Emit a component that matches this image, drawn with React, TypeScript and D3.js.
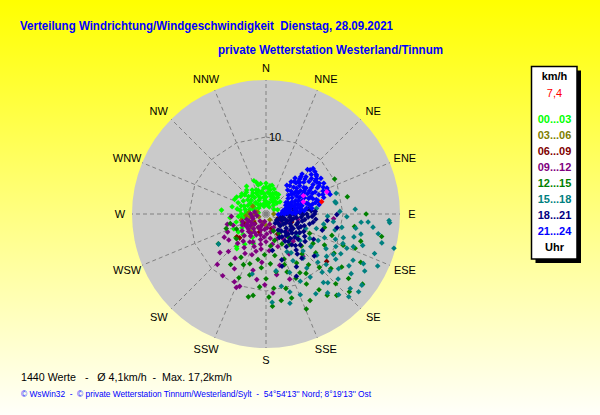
import React from "react";
import * as d3 from "d3";

const directions = ["N","NNE","NE","ENE","E","ESE","SE","SSE","S","SSW","SW","WSW","W","WNW","NW","NNW"];
const ringValues = [10];
const maxSpeed = 17.4;
const currentSpeed = 7.4;
const legendRanges = ["00...03","03...06","06...09","09...12","12...15","15...18","18...21","21...24"];
const legendColors = ["#00ff00","#808000","#800000","#800080","#008000","#008080","#000080","#0000ff"];

// [direction in degrees, speed km/h]
const lime: [number, number][] = [
  [0,3.5],[345,3.9],[343,4.3],[321,4.0],[310,4.1],[295,4.5],[282,4.5],[275,5.8],[264,4.7],[237,4.3],[222,5.7],[220,5.9],[24,2.9],[27,3.0],[49,2.4],
  [350,3.0],[355,2.6],[5,2.8],[10,3.2],[15,2.4],[20,2.0],[30,1.8],[40,1.5],[355,1.8],[340,2.2],[335,3.0],[330,3.6],[325,2.6],[315,3.2],[318,2.0],
  [305,2.5],[300,3.4],[290,3.0],[285,2.2],[298,1.6],[310,1.2],[330,1.4],[345,1.0],[280,3.8],[270,3.2],[272,2.4],[265,3.6],[260,2.8],[255,4.0],
  [250,3.3],[245,4.6],[240,3.6],[232,5.0],[228,4.0],[8,1.2],[25,1.0],[60,1.2],[70,1.6],[0,2.2],[338,3.4],[312,3.7],[292,3.9],[300,4.4],[325,4.4],
  [350,4.0],[8,3.7],[18,3.4],[35,2.6],[45,2.0],[203,4.2],[210,3.5],[215,4.8],
  [355,3.4],[0,4.0],[5,3.4],[12,2.6],[18,2.8],[22,2.4],[28,2.2],[33,3.0],[38,2.0],[347,2.8],[342,3.2],[337,2.6],[333,2.0],[328,3.2],[322,3.0],
  [318,3.8],[313,2.6],[308,3.0],[303,2.0],[295,2.6],[288,3.4],[283,2.8],[278,3.4],[276,2.6],[268,2.8],[262,3.2],[352,2.2],[2,1.6],[15,1.5],
  [350,1.4],[320,1.6],[290,1.8],[280,1.0],[12,3.8],[340,4.6],[305,4.0]
];
const olive: [number, number][] = [
  [260,2.1],[284,1.2],[146,0.9],[116,1.6],[256,3.3],[240,1.8],[230,2.5],[270,1.5],[250,1.0],[200,1.2],[300,2.0],[220,3.0],[180,1.5],[100,2.2],
  [90,1.0],[265,2.6],[245,2.9],[275,2.2],[210,2.0],[120,2.6]
];
const maroon: [number, number][] = [
  [232,4.8],[230,1.9],[107,1.7],[107,3.5],[228,4.6],[128,10.0],[245,3.1],[106,3.2],[200,2.5],[160,2.0],[150,3.0]
];
const purple: [number, number][] = [
  [241,6.2],[224,9.1],[215,9.8],[202,10.3],[205,9.7],[200,10.0],[225,6.9],[181,9.2],[175,10.3],[199,5.6],[251,4.5],[266,4.5],[94,8.8],[139,7.3],
  [165,6.9],[193,7.5],[224,5.3],[230,7.8],[215,7.0],[210,8.2],[188,8.6],[170,8.0],[160,9.0],[150,6.0],[235,5.9],[245,5.5],[255,5.2],[208,5.8],[185,6.3],
  [190,1.0],[200,1.5],[210,2.0],[220,2.5],[230,3.0],[240,2.2],[250,1.8],[260,1.2],[215,3.5],[205,3.0],[195,2.8],[185,2.0],[175,1.8],[165,2.4],
  [170,3.2],[180,3.6],[190,4.0],[200,4.5],[210,4.2],[225,4.0],[235,3.8],[245,3.4],[255,2.6],[220,1.2],[160,1.4],[150,2.0],[140,2.8],[155,3.5],
  [145,4.0],[160,4.5],[175,4.8],[195,5.0],[130,3.5],[120,2.0],[110,3.0],[100,4.2],[135,5.0],[270,2.0],[280,1.5],
  [185,3.0],[192,3.4],[198,2.2],[205,4.0],[212,2.8],[218,3.2],[225,3.2],[228,2.0],[233,2.5],[238,3.0],[242,2.8],[248,2.4],[252,3.2],[258,1.8],
  [203,1.8],[178,2.6],[168,4.0],[188,4.6],[213,5.2],[220,4.6]
];
const green: [number, number][] = [
  [63,10.0],[78,10.8],[101,15.3],[126,15.5],[139,14.0],[145,12.0],[170,11.4],[189,10.7],[203,9.0],[204,7.2],[174,9.7],[111,12.4],[238,7.3],[255,4.8],[243,4.3],
  [150,10.5],[155,9.2],[160,8.0],[165,10.0],[180,8.4],[185,7.0],[195,8.2],[175,6.5],[168,5.5],[158,6.3],[148,7.5],[140,8.6],[135,9.8],[130,11.0],
  [125,12.0],[120,10.2],[118,8.6],[122,7.2],[132,6.2],[142,5.0],[152,4.4],[162,3.6],[172,4.2],[182,5.3],[190,6.0],[198,6.8],[210,6.5],[215,8.0],
  [185,9.5],[178,10.8],[163,11.4],[153,12.6],[143,13.2],[135,12.8],[128,13.6],[117,13.8],[112,10.8],[108,9.0],[103,7.8],[114,6.2],[126,5.0],
  [136,4.2],[146,3.0],[156,2.4],[128,8.2],[138,7.0],[150,8.8],[160,7.0],[170,7.6],[176,12.0],[192,11.0],[157,13.4],[146,9.3],[133,14.8],[98,11.6],
  [106,12.8],[90,13.0],[250,5.5],[230,5.0]
];
const teal: [number, number][] = [
  [81,9.2],[94.5,13.3],[94,16.1],[93,16.0],[105,17.2],[104,15.5],[117,14.2],[130,15.7],[135,15.2],[111,10.7],[87,11.6],[99,11.8],[122,12.7],
  [126.6,15.5],[131.5,14.6],[138,14.1],[80,9.1],[73.5,9.5],[83.6,6.6],[119,6.5],[153,9.8],[176,11.5],[193,8.0],[237.6,7.3],[163,10.6],[157,11.4],
  [121,10.2],[104.6,11.8],[96.5,8.8],[110.5,12.1],[131.7,11.1],[129,8.5],[143,8.8],[151,5.6],[124,4.8],
  [100,10.0],[103,9.2],[107,10.5],[110,9.6],[113,11.4],[115,10.0],[118,11.0],[120,9.0],[123,10.8],[125,9.6],[127,11.8],[130,10.2],[133,9.2],
  [136,10.5],[140,11.6],[145,10.0],[148,12.2],[142,13.0],[125,13.5],[118,12.8],[108,13.2],[102,12.6],[97,14.0],[100,14.8],[110,15.0],[115,16.0],
  [120,14.8],[92,10.5],[88,9.6],[95,12.4],[112,8.2],[117,7.6],[126,7.2],[135,6.8],[140,7.5],[132,12.6],[138,12.0],[150,7.0],[158,8.2],[147,6.0],
  [106,6.8],[100,7.6],[92,8.0],[128,5.6],[110,5.5],[168,9.6],[165,12.0],[170,7.5]
];
const navy: [number, number][] = [
  [90,2.7],[95,2.2],[100,2.0],[110,1.8],[120,1.6],[135,1.7],[130,2.4],[120,2.6],[108,2.9],[98,3.1],[88,3.3],[86,4.0],[92,3.8],[100,3.6],[112,3.4],
  [125,3.2],[138,3.0],[145,3.6],[132,3.9],[118,4.0],[105,4.3],[95,4.6],[85,4.8],[83,5.5],[90,5.3],[98,5.1],[110,4.8],[122,4.6],[135,4.5],[145,4.3],
  [140,5.2],[128,5.3],[115,5.4],[103,5.8],[93,6.0],[87,6.4],[96,6.5],[132,6.0],[140,6.1],[125,6.2],[148,5.0],[150,3.5],[112,2.2],[80,3.6],
  [90.5,9.2],[101,9.4],[150,7.9],[161,6.3],[154,9.0],[163,7.1],[141,7.4],[118,7.0],[106,7.6],[96,8.0],[131,8.3],[170,4.8],
  [88,4.4],[91,4.8],[94,5.5],[97,4.0],[101,4.8],[104,3.4],[107,5.2],[109,4.2],[113,4.6],[116,3.6],[119,5.0],[123,3.8],[126,4.2],[129,4.8],
  [133,3.4],[137,3.8],[141,4.6],[143,2.6],[127,2.0],[115,2.8],[104,2.5],[93,3.2],[86,5.9],[90,6.3],[100,6.2],[137,5.6],[142,6.6],[120,5.8]
];
const blue: [number, number][] = [
  [92,1.6],[88,2.0],[85,2.4],[80,2.2],[75,2.6],[70,3.0],[62,3.2],[55,3.5],[50,3.8],[52,4.2],[58,4.0],[65,3.7],[72,3.5],[78,3.2],[84,3.0],[88,3.4],
  [86,3.9],[80,4.1],[74,4.3],[68,4.5],[60,4.6],[53,4.9],[46,5.0],[40,4.8],[38,5.3],[44,5.6],[50,5.7],[56,5.4],[63,5.2],[70,5.0],[77,4.8],[83,4.6],
  [82,5.3],[76,5.6],[70,5.9],[64,6.0],[57,6.2],[50,6.4],[44,6.3],[42,7.0],[47,7.1],[53,7.0],[60,6.8],[66,6.6],[72,6.4],[78,6.2],[76,7.0],[70,7.3],
  [63,7.5],[56,7.7],[49,7.8],[43,7.9],[46,8.5],[52,8.3],[57,8.5],[65,8.2],[70,8.6],[74,7.8],[68,8.0],[60,8.0],[49,8.4],[53,8.2],[73,8.7],[45,8.1],
  [48,4.4],[42,4.2],[36,4.6],[60,3.0],[66,2.8],[79,5.8],[74,6.8],[80,7.0],
  [45,5.9],[48,6.8],[52,7.5],[55,6.0],[58,7.2],[61,5.6],[62,8.5],[66,7.0],[67,5.4],[69,6.2],[71,7.8],[73,4.8],[75,5.4],[77,6.6],[79,4.5],[81,3.8],
  [83,6.0],[85,5.0],[86,4.4],[87,2.8],[89,3.8],[90,2.4],[54,4.5],[57,5.0],[59,5.8],[62,6.4],[64,4.8],[66,4.2],[68,3.4],[71,4.0],[73,3.0],[76,3.8],
  [78,2.8],[82,2.6],[47,6.0],[50,5.2],[41,5.6],[39,6.0],[43,6.6],[55,8.0],[62,7.8],[67,8.6],[58,7.8]
];
const magenta: [number, number][] = [[70,8.4],[64,5.4],[72,5.1]];
const current: [number, number][] = [[77.5,currentSpeed]];

const series = [
  { data: lime, color: legendColors[0] },
  { data: olive, color: legendColors[1] },
  { data: maroon, color: legendColors[2] },
  { data: purple, color: legendColors[3] },
  { data: green, color: legendColors[4] },
  { data: teal, color: legendColors[5] },
  { data: navy, color: legendColors[6] },
  { data: blue, color: legendColors[7] },
  { data: magenta, color: "#ff00ff" },
  { data: current, color: "#ff0000" },
];

const W = 600, H = 415;
const cx = 266, cy = 214, R = 134;
const font = "'Liberation Sans', Arial, sans-serif";
const pre = { whiteSpace: "pre" as const };

export default function App() {
  const r = d3.scaleLinear().domain([0, maxSpeed]).range([0, R]);
  const ang = d3.scaleLinear().domain([0, 360]).range([0, 2 * Math.PI]);
  const px = (d: number, s: number) => cx + r(s) * Math.sin(ang(d));
  const py = (d: number, s: number) => cy - r(s) * Math.cos(ang(d));
  const diamond = "M0,-2.8L2.8,0L0,2.8L-2.8,0Z";
  const step = 360 / directions.length;

  return (
    <svg width={W} height={H} style={{ position: "absolute", left: 0, top: 0 }} fontFamily={font}>
      <defs>
        <linearGradient id="bg" x1="0" y1="0" x2="0" y2="1">
          <stop offset="0" stopColor="#ffff00" />
          <stop offset="1" stopColor="#fffffa" />
        </linearGradient>
      </defs>
      <rect x={0} y={0} width={W} height={H} fill="url(#bg)" />

      <text x={20} y={29.5} fontSize={13} fontWeight="bold" fill="#0000ff" style={pre} textLength={373} lengthAdjust="spacingAndGlyphs">
        {"Verteilung Windrichtung/Windgeschwindigkeit  Dienstag, 28.09.2021"}
      </text>
      <text x={218} y={54} fontSize={13} fontWeight="bold" fill="#0000ff" textLength={225} lengthAdjust="spacingAndGlyphs">
        private Wetterstation Westerland/Tinnum
      </text>

      <circle cx={cx} cy={cy} r={R} fill="#cacaca" />
      {directions.map((d, i) => (
        <line key={"s" + d} x1={cx} y1={cy} x2={px(i * step, maxSpeed)} y2={py(i * step, maxSpeed)}
          stroke="#808080" strokeWidth={1} strokeDasharray="4,3" />
      ))}
      {ringValues.map((v) => (
        <g key={"ring" + v}>
          <polygon
            points={directions.map((_, i) => `${px(i * step, v)},${py(i * step, v)}`).join(" ")}
            fill="none" stroke="#808080" strokeWidth={1} strokeDasharray="4,3" />
          <text x={cx + 3} y={py(0, v)} dominantBaseline="central" fontSize={11} fill="#000">{v}</text>
        </g>
      ))}

      {series.map((s, si) => (
        <g key={"ser" + si} fill={s.color}>
          {s.data.map(([d, v], i) => (
            <path key={i} d={diamond} transform={`translate(${px(d, v)},${py(d, v)})`} />
          ))}
        </g>
      ))}

      {directions.map((d, i) => {
        const a = ang(i * step);
        const sx = Math.sin(a);
        const off = Math.abs(sx) > 0.01 && Math.abs(sx) < 0.99 ? Math.sign(sx) * 4 : 0;
        return (
          <text key={"l" + d} x={cx + 146 * sx + off} y={cy - 146 * Math.cos(a)} textAnchor="middle"
            dominantBaseline="central" fontSize={11} fill="#000">{d}</text>
        );
      })}

      <rect x={535.5} y={70.5} width={45.5} height={192.5} fill="#000" />
      <rect x={531.5} y={66.5} width={45.5} height={192.5} fill="#fff" stroke="#000" strokeWidth={1.5} />
      <g textAnchor="middle" dominantBaseline="central" fontSize={11}>
        <text x={554.5} y={76} fontWeight="bold" fill="#000">km/h</text>
        <text x={554.5} y={92.7} fill="#ff0000">{String(currentSpeed).replace(".", ",")}</text>
        {legendRanges.map((t, i) => (
          <text key={t} x={554.5} y={119.3 + i * 15.9} fontWeight="bold" fill={legendColors[i]}>{t}</text>
        ))}
        <text x={554.5} y={246.7} fontWeight="bold" fill="#000">Uhr</text>
      </g>

      <text x={21} y={381} fontSize={11} fill="#000" style={pre} textLength={211} lengthAdjust="spacingAndGlyphs">
        {"1440 Werte   -   Ø 4,1km/h  -  Max. 17,2km/h"}
      </text>
      <text x={21} y={397} fontSize={9} fill="#0000ff" style={pre} textLength={350} lengthAdjust="spacingAndGlyphs">
        {"© WsWin32  -  © private Wetterstation Tinnum/Westerland/Sylt  -  54°54'13'' Nord; 8°19'13'' Ost"}
      </text>
    </svg>
  );
}
